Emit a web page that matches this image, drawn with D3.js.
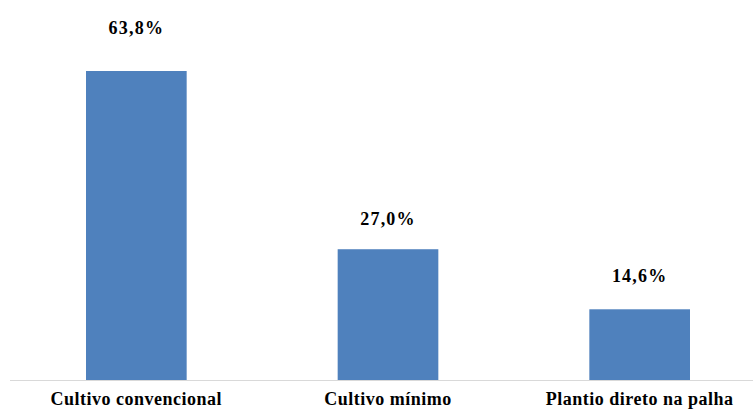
<!DOCTYPE html>
<html>
<head>
<meta charset="utf-8">
<script src="https://cdn.jsdelivr.net/npm/d3@7"></script>
<style>
  html, body { margin: 0; padding: 0; background: #ffffff; }
  svg { display: block; }
</style>
</head>
<body>
<svg id="chart" width="753" height="410"></svg>
<script>
// ---- data ----
const categories = ["Cultivo convencional", "Cultivo mínimo", "Plantio direto na palha"];
const values = [63.8, 27.0, 14.6];
const valueLabels = ["63,8%", "27,0%", "14,6%"];

// ---- layout ----
const W = 753, H = 410;
const baseY = 380;
const labelGap = [37, 24, 27];

const svg = d3.select("#chart");

const x = d3.scaleBand()
  .domain(categories)
  .range([10.5, 765.5])
  .paddingInner(0.6)
  .paddingOuter(0.3);

const y = d3.scaleLinear()
  .domain([0, 63.8])
  .range([baseY, 71]);

const data = categories.map((c, i) => ({ c, v: values[i], label: valueLabels[i], gap: labelGap[i] }));

svg.selectAll("rect.bar")
  .data(data)
  .enter().append("rect")
  .attr("class", "bar")
  .attr("x", d => x(d.c))
  .attr("width", x.bandwidth())
  .attr("y", d => y(d.v))
  .attr("height", d => y(0) - y(d.v))
  .attr("fill", "#4F81BD");

// axis baseline
const axis = d3.axisBottom(x).tickSize(0).tickPadding(17);
const gAxis = svg.append("g")
  .attr("transform", `translate(0,${baseY})`)
  .call(axis);
gAxis.select(".domain").remove();
svg.append("line")
  .attr("x1", 10).attr("x2", W)
  .attr("y1", baseY + 0.5).attr("y2", baseY + 0.5)
  .attr("stroke", "#D9D9D9").attr("stroke-width", 1);
gAxis.selectAll("text")
  .attr("font-family", "'Liberation Serif', 'Times New Roman', serif")
  .attr("font-weight", "bold")
  .attr("font-size", "18px")
  .attr("letter-spacing", "0.5px")
  .attr("fill", "#000")
  .attr("dy", null)
  .attr("y", 25);

svg.selectAll("text.val")
  .data(data)
  .enter().append("text")
  .attr("class", "val")
  .attr("x", d => x(d.c) + x.bandwidth() / 2)
  .attr("y", d => y(d.v) - d.gap)
  .attr("text-anchor", "middle")
  .attr("font-family", "'Liberation Serif', 'Times New Roman', serif")
  .attr("font-weight", "bold")
  .attr("font-size", "18px")
  .attr("letter-spacing", "1.2px")
  .attr("fill", "#000")
  .text(d => d.label);
</script>
</body>
</html>
